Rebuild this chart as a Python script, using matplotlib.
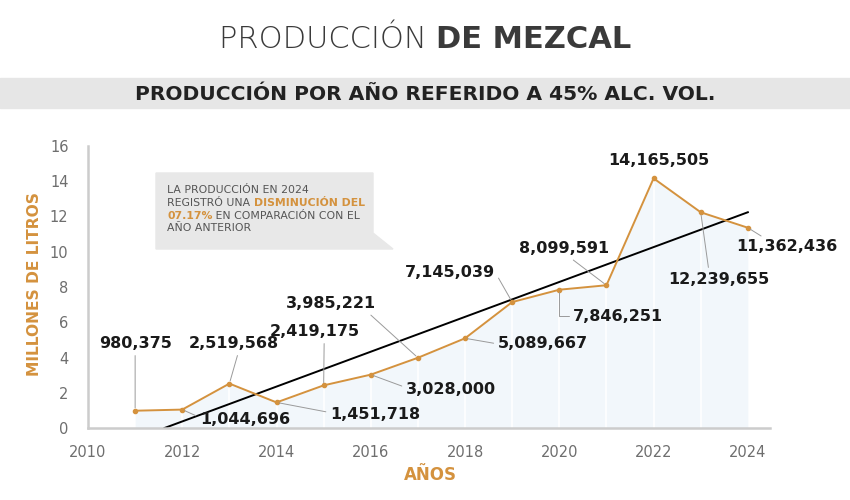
import numpy as np
import matplotlib.pyplot as plt
from matplotlib.patches import Polygon, Rectangle

# datos
years = np.arange(2011, 2025)
litros = [980375, 1044696, 2519568, 1451718, 2419175, 3028000, 3985221,
          5089667, 7145039, 7846251, 8099591, 14165505, 12239655, 11362436]
etiquetas = ['980,375', '1,044,696', '2,519,568', '1,451,718', '2,419,175',
             '3,028,000', '3,985,221', '5,089,667', '7,145,039', '7,846,251',
             '8,099,591', '14,165,505', '12,239,655', '11,362,436']
y_ticks = [0, 2, 4, 6, 8, 10, 12, 14, 16]
x_ticks = [2010, 2012, 2014, 2016, 2018, 2020, 2022, 2024]

valores = np.array(litros) / 1e6

# posicion de cada etiqueta (x, y) y punto de salida de la linea guia
pos_etiquetas = [(2011.0, 4.77), (2013.33, 0.51), (2013.1, 4.77), (2016.09, 0.79),
                 (2014.82, 5.45), (2017.7, 2.21), (2015.15, 7.04), (2019.65, 4.77),
                 (2017.68, 8.85), (2021.24, 6.35), (2020.1, 10.16), (2022.11, 15.15),
                 (2023.39, 8.45), (2024.83, 10.27)]
relpos = [(0.5, 0), (0, 0.6), (0.55, 0), (0, 0.6), (0.6, 0), (0, 0.6), (0.9, 0),
          (0, 0.5), (1, 0.5), (0, 0.5), (0.55, 0), None, (0.4, 1), (0.3, 1)]

NARANJA = '#d4923e'
GRIS_TXT = '#6e6e6e'
FUENTE = 'DejaVu Sans'

plt.rcParams['font.family'] = [FUENTE]

W, H = 850, 500
fig = plt.figure(figsize=(W / 100, H / 100), dpi=100)


def P(px, py):
    return (px / W, 1 - py / H)


# banda gris del subtitulo
fig.patches.append(Rectangle(P(0, 108), 1, 30 / H, transform=fig.transFigure,
                             color='#e6e6e6', zorder=0))

renderer = fig.canvas.get_renderer()


def texto_partes(x, y, partes, centrar=False, **kw):
    """dibuja varios trozos de texto con estilos distintos en una linea"""
    objs = []
    cur = x
    for s, props in partes:
        t = fig.text(cur, y, s, va='center', ha='left', **kw, **props)
        w = t.get_window_extent(renderer).width / W
        objs.append((t, w))
        cur += w
    if centrar:
        total = cur - x
        cur = x - total / 2
        for t, w in objs:
            t.set_x(cur)
            cur += w


texto_partes(0.5, 1 - 40 / H, [('PRODUCCIÓN ', dict(weight='light')),
                               ('DE MEZCAL', dict(weight='bold'))],
             centrar=True, fontsize=22, color='#3a3a3a')

fig.text(0.5, 1 - 94 / H, 'PRODUCCIÓN POR AÑO REFERIDO A 45% ALC. VOL.',
         ha='center', va='center', fontsize=14.6, weight='bold', color='#222222')

# grafica
ax = fig.add_axes([88 / W, 1 - 428 / H, 682 / W, 282 / H])
ax.set_xlim(2010, 2024.47)
ax.set_ylim(0, 16)

ax.fill_between(years, valores, color='#f2f7fb', lw=0, zorder=1)
ax.vlines(years[1:-1], 0, valores[1:-1], colors='white', lw=1.2, zorder=1.5)
ax.plot(years, valores, color=NARANJA, lw=1.4, marker='o', ms=3, zorder=3)

# linea de tendencia
m, b = np.polyfit(years, valores, 1)
x0 = -b / m
xt = np.array([x0, years[-1]])
ax.plot(xt, m * xt + b, color='black', lw=1.4, zorder=2.5)

for i, (lab, (tx, ty)) in enumerate(zip(etiquetas, pos_etiquetas)):
    if relpos[i] is None:
        ax.text(tx, ty, lab, ha='center', va='center', fontsize=11.5,
                weight='bold', color='#1a1a1a', zorder=5)
        continue
    cs = 'arc3'
    if lab == '7,846,251':
        cs = 'angle,angleA=0,angleB=90,rad=0'
    ax.annotate(lab, xy=(years[i], valores[i]), xytext=(tx, ty),
                ha='center', va='center', fontsize=11.5, weight='bold',
                color='#1a1a1a', zorder=5,
                arrowprops=dict(arrowstyle='-', color='#9a9a9a', lw=0.7,
                                shrinkA=1, shrinkB=2, relpos=relpos[i],
                                connectionstyle=cs))

ax.set_yticks(y_ticks)
ax.set_xticks(x_ticks)
ax.tick_params(length=0, labelsize=10.5, labelcolor=GRIS_TXT, pad=12)
ax.tick_params(axis='y', pad=14)
for s in ['top', 'right']:
    ax.spines[s].set_visible(False)
for s in ['left', 'bottom']:
    ax.spines[s].set_color('#cccccc')
    ax.spines[s].set_linewidth(1.8)
ax.set_facecolor('none')

ax.set_ylabel('MILLONES DE LITROS', fontsize=11.2, weight='bold', color=NARANJA)
ax.set_xlabel('AÑOS', fontsize=12, weight='bold', color=NARANJA)
ax.xaxis.set_label_coords((430 - 88) / 682, -47 / 282)
ax.yaxis.set_label_coords(-(88 - 35) / 682, (428 - 284) / 282)
ax.yaxis.label.set_va('center')
ax.xaxis.label.set_va('center')

# cuadro de comentario
caja = [P(156, 173), P(373, 173), P(373, 233), P(393, 249), P(156, 249)]
fig.patches.append(Polygon(caja, closed=True, transform=fig.transFigure,
                           color='#e8e8e8', zorder=1))
gris = dict(color='#555555')
nar = dict(color=NARANJA, weight='bold')
lineas = [
    [('LA PRODUCCIÓN EN 2024', gris)],
    [('REGISTRÓ UNA ', gris), ('DISMINUCIÓN DEL', nar)],
    [('07.17%', nar), (' EN COMPARACIÓN CON EL', gris)],
    [('AÑO ANTERIOR', gris)],
]
for k, partes in enumerate(lineas):
    x, y = P(167, 190 + 12.8 * k)
    texto_partes(x, y, partes, fontsize=7.8)

fig.savefig('out.png', dpi=100)
